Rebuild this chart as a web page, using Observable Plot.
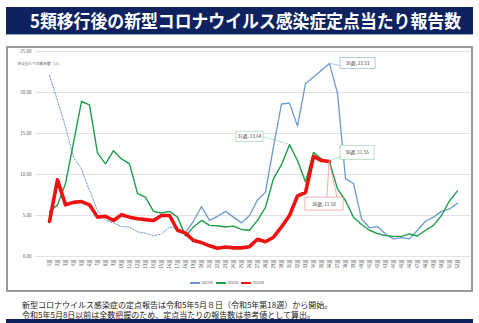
<!DOCTYPE html>
<html><head><meta charset="utf-8">
<script src="https://cdn.jsdelivr.net/npm/d3@7"></script>
<script src="https://cdn.jsdelivr.net/npm/@observablehq/plot@0.6"></script>
<style>
body{margin:0;width:479px;height:323px;position:relative;background:#fff;font-family:"Noto Sans CJK JP",sans-serif;overflow:hidden}
#title{position:absolute;left:6px;top:7px;width:467px;height:27px;background:#0e2260;color:#fff;border-bottom:1px solid #8fa3c8}
#title span{position:absolute;left:24px;top:0;font-weight:bold;font-size:18px;line-height:27px;white-space:nowrap;transform-origin:0 50%}
#frame{position:absolute;left:6px;top:46px;width:463px;height:242px;border:2px solid #9a9a9a}
#chart{position:absolute;left:8px;top:48px}
#legend{position:absolute;left:190px;top:280px;display:flex;align-items:center;font-size:3.6px;color:#595959;white-space:nowrap}
#legend .sw{display:inline-block;width:10px;height:2px;margin-right:1.5px}
#legend .it{display:flex;align-items:center;margin-right:2.5px}
#note{position:absolute;left:22px;top:300px;font-size:8px;line-height:9.5px;color:#222;white-space:nowrap}
#bottom{position:absolute;left:6px;top:319px;width:467px;height:4px;background:#0e2260}
</style></head>
<body>
<div id="title"><span id="ttext">5類移行後の新型コロナウイルス感染症定点当たり報告数</span></div>
<div id="frame"></div>
<div id="chart"></div>
<div id="legend"></div>
<div id="note">新型コロナウイルス感染症の定点報告は令和5年5月８日（令和5年第18週）から開始。<br>令和5年5月8日以前は全数把握のため、定点当たりの報告数は参考値として算出。</div>
<div id="bottom"></div>
<script>
const weeks = Array.from({length: 52}, (_, i) => `${i + 1}週`);
const yTicks = [0, 5, 10, 15, 20, 25];
const yTitle = "定点当たりの報告数（人）";
const seriesNames = ["2023年", "2024年", "2025年"];
const seriesColors = ["#6a99d0", "#1e9e4a", "#ee1111"];
const v2023 = [22.1, 19.0, 15.8, 12.1, 10.7, 8.05, 5.6, 4.4, 4.1, 3.65, 3.6, 3.0, 2.85, 2.5, 2.75, 3.6, 3.4, 2.9,
  4.3, 6.1, 4.4, 4.9, 5.5, 4.8, 4.1, 5.0, 6.9, 7.85, 13.4, 18.6, 18.7, 15.9, 21.1, 21.9, 22.7, 23.53,
  19.9, 9.5, 8.9, 4.6, 3.5, 3.65, 2.75, 2.15, 2.3, 2.15, 3.2, 4.3, 4.8, 5.5, 5.8, 6.5];
const v2024 = [5.5, 6.3, 8.9, 13.9, 18.9, 18.5, 12.6, 11.3, 12.9, 11.9, 11.3, 7.7, 7.2, 5.5, 5.3, 5.5, 4.8, 2.5,
  3.6, 4.4, 3.8, 3.75, 3.6, 3.7, 3.3, 3.2, 4.4, 6.0, 9.5, 11.2, 13.64, 11.7, 9.1, 12.7, 11.9, 11.55,
  8.25, 6.8, 4.8, 3.9, 3.2, 2.8, 2.55, 2.45, 2.45, 2.75, 2.5, 3.2, 3.8, 5.0, 6.8, 8.0];
const v2025 = [4.27, 9.35, 6.3, 6.6, 6.7, 6.3, 4.8, 4.9, 4.4, 5.1, 4.8, 4.6, 4.5, 4.4, 5.0, 5.0, 3.2, 2.85,
  1.95, 1.7, 1.3, 1.0, 1.15, 1.05, 1.05, 1.2, 2.1, 1.8, 2.35, 3.6, 5.0, 7.4, 7.8, 12.2, 11.7, 11.58];
const refEndWeek = 18; // 2023 reference values (dotted) until week 18
const callouts = [
  {series: 0, week: 36, value: 23.53},
  {series: 1, week: 31, value: 13.64},
  {series: 1, week: 36, value: 11.55},
  {series: 2, week: 36, value: 11.58}
];

// fit title to its width in the reference
const tt = document.getElementById("ttext");
const tw = tt.getBoundingClientRect().width;
tt.style.transform = `scaleX(${431 / tw})`;

const rows = (vals, s) => vals.map((v, i) => ({week: weeks[i], n: i + 1, value: v, s}));
const d23 = rows(v2023, 0), d24 = rows(v2024, 1), d25 = rows(v2025, 2);
const font = '"Noto Sans CJK JP", sans-serif';

const W = 463, H = 230;
const plot = Plot.plot({
  width: W, height: H,
  marginTop: 3, marginBottom: 22, marginLeft: 27, marginRight: 1,
  style: {fontFamily: font, background: "transparent"},
  x: {type: "point", domain: weeks, padding: 0.5},
  y: {domain: [0, 25]},
  marks: [
    Plot.gridY(yTicks, {stroke: "#d9d9d9", strokeOpacity: 1, strokeWidth: 0.8}),
    Plot.axisY(yTicks, {tickSize: 0, tickPadding: 4, tickFormat: d => d.toFixed(2), fontSize: 4.5, fill: "#595959", label: null}),
    Plot.axisX(weeks, {tickSize: 0, tickPadding: 3, tickRotate: -90, fontSize: 4.3, fill: "#595959", label: null}),
    Plot.text([yTitle], {frameAnchor: "top-left", dx: -18, dy: 11, fontSize: 3.7, fill: "#595959", textAnchor: "start"}),
    Plot.line(d23.filter(d => d.n <= refEndWeek), {x: "week", y: "value", stroke: seriesColors[0], strokeWidth: 1, strokeDasharray: "1.4,1.6"}),
    Plot.line(d23.filter(d => d.n >= refEndWeek), {x: "week", y: "value", stroke: seriesColors[0], strokeWidth: 1.3}),
    Plot.line(d24, {x: "week", y: "value", stroke: seriesColors[1], strokeWidth: 1.4}),
    Plot.line(d25, {x: "week", y: "value", stroke: seriesColors[2], strokeWidth: 3.6, strokeLinejoin: "round"})
  ]
});
document.getElementById("chart").appendChild(plot);

// callouts (data labels) drawn at positions from the plot's scales
const sx = plot.scale("x"), sy = plot.scale("y");
const boxStroke = ["#8fb1da", "#9fd1ad", "#f08a8a"];
const layout = [
  {bx: 11, by: -5.5, bw: 35, bh: 11, lines: [[[0, 0], [11, 2.5]]]},
  {bx: -53, by: -13, bw: 27, bh: 10.5, lines: [[[-26, -7.5], [0, 0]]]},
  {bx: 11, by: -16, bw: 34, bh: 14, lines: [[[11, -4.6], [0, 0]]]},
  {bx: -24, by: 36, bw: 38, bh: 13, lines: [[[-2, 36], [0, 0]], [[8, 36], [0, 0]]]}
];
const svg = d3.select(plot);
const g = svg.append("g");
callouts.forEach((c, i) => {
  const px = sx.apply(weeks[c.week - 1]), py = sy.apply(c.value);
  const L = layout[i];
  L.lines.forEach(([a, b]) => {
    g.append("line").attr("x1", px + a[0]).attr("y1", py + a[1]).attr("x2", px + b[0]).attr("y2", py + b[1])
      .attr("stroke", boxStroke[c.series]).attr("stroke-width", 0.7);
  });
  g.append("rect").attr("x", px + L.bx).attr("y", py + L.by).attr("width", L.bw).attr("height", L.bh)
    .attr("fill", "#fff").attr("stroke", boxStroke[c.series]).attr("stroke-width", 0.7);
  g.append("text").attr("x", px + L.bx + L.bw / 2).attr("y", py + L.by + L.bh / 2)
    .attr("text-anchor", "middle").attr("dominant-baseline", "central")
    .attr("font-size", 4.6).attr("fill", "#404040").attr("font-family", font)
    .text(`${c.week}週, ${c.value.toFixed(2)}`);
});

// legend
const leg = d3.select("#legend");
seriesNames.forEach((n, i) => {
  const it = leg.append("span").attr("class", "it");
  it.append("span").attr("class", "sw").style("background", seriesColors[i]);
  it.append("span").text(n);
});
</script>
</body></html>
